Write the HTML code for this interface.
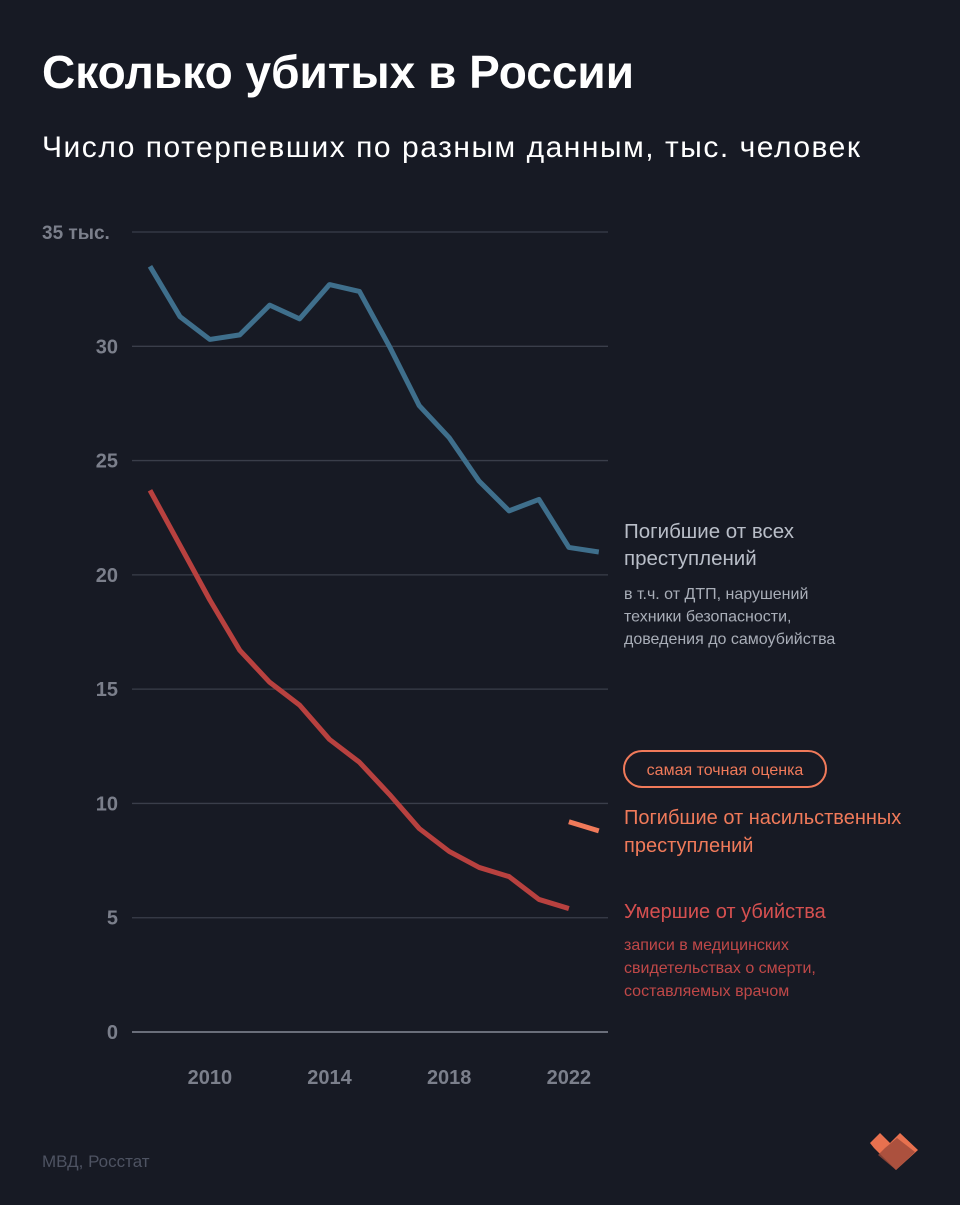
<!DOCTYPE html>
<html><head><meta charset="utf-8"><style>
body{margin:0;background:#171a24;width:960px;height:1200px;overflow:hidden;font-family:"Liberation Sans","DejaVu Sans",sans-serif}
svg text{font-family:"Liberation Sans","DejaVu Sans",sans-serif}
</style></head><body>
<svg id="c" width="960" height="1200">
<text x="42" y="88" font-size="46" font-weight="bold" fill="#ffffff" textLength="592">Сколько убитых в России</text>
<text x="42" y="157" font-size="30" fill="#ffffff" textLength="818">Число потерпевших по разным данным, тыс. человек</text>
<g id="grid"></g><g id="lines"></g>
<text x="624" y="538" font-size="20.5" fill="#b9bec8"><tspan x="624">Погибшие от всех</tspan><tspan x="624" dy="27">преступлений</tspan></text>
<text x="624" y="599" font-size="16" fill="#a9aeb8"><tspan x="624">в т.ч. от ДТП, нарушений</tspan><tspan x="624" dy="22.5">техники безопасности,</tspan><tspan x="624" dy="22.5">доведения до самоубийства</tspan></text>
<rect x="624" y="751" width="202" height="36" rx="18" fill="none" stroke="#f07a5a" stroke-width="2"/>
<text x="725" y="775" font-size="16" fill="#f07a5a" text-anchor="middle">самая точная оценка</text>
<text x="624" y="824" font-size="20" fill="#f07a5a"><tspan x="624">Погибшие от насильственных</tspan><tspan x="624" dy="28">преступлений</tspan></text>
<text x="624" y="918" font-size="20" fill="#d65050">Умершие от убийства</text>
<text x="624" y="950" font-size="16" fill="#c04848"><tspan x="624">записи в медицинских</tspan><tspan x="624" dy="23">свидетельствах о смерти,</tspan><tspan x="624" dy="23">составляемых врачом</tspan></text>
<text x="42" y="1167" font-size="17" fill="#4e5362">МВД, Росстат</text>
<g>
<polygon points="870,1143 880,1133 890,1143 900,1133 918,1150 896,1170 874,1148" fill="#e8714f"/>
<polygon points="885,1148 897,1138 915,1152 896,1170 878,1155" fill="#9c4a3a" opacity="0.8"/>
</g>
</svg>
<script>
const years=[2008,2009,2010,2011,2012,2013,2014,2015,2016,2017,2018,2019,2020,2021,2022,2023];
const allCrimes=[33.5,31.3,30.3,30.5,31.8,31.2,32.7,32.4,30.0,27.4,26.0,24.1,22.8,23.3,21.2,21.0];
const murders=[23.7,21.3,18.9,16.7,15.3,14.3,12.8,11.8,10.4,8.9,7.9,7.2,6.8,5.8,5.4];
const violentYears=[2022,2023];
const violent=[9.2,8.8];
const yTicks=[0,5,10,15,20,25,30,35];
const xTicks=[2010,2014,2018,2022];
const X=y=>150+(y-2008)*29.92;
const Y=v=>1032-v*22.857;
const NS="http://www.w3.org/2000/svg";
const grid=document.getElementById('grid'),lines=document.getElementById('lines');
function mk(tag,attrs,parent){const e=document.createElementNS(NS,tag);for(const k in attrs)e.setAttribute(k,attrs[k]);parent.appendChild(e);return e;}
yTicks.forEach(v=>{
 const l=mk('line',{x1:132,x2:608,y1:Y(v),y2:Y(v),stroke:v===0?'#6a6e7a':'#3a3e4a','stroke-width':v===0?2:1.3},grid);
 
 
 const t=mk('text',{x:118,y:Y(v)+7,'text-anchor':'end','font-size':20,'font-weight':'bold',fill:'#7b7f8b'},grid);
 t.textContent=v===35?'35 тыс.':v;
 if(v===35){t.setAttribute('x',42);t.setAttribute('text-anchor','start');t.setAttribute('font-size',19);}
 
 
});
xTicks.forEach(y=>{
 const t=mk('text',{x:X(y),y:1084,'text-anchor':'middle','font-size':20,'font-weight':'bold',fill:'#7b7f8b'},grid);
 t.textContent=y;
 
 
});
function line(xs,vs,color,name){
 const p=mk('polyline',{points:vs.map((v,i)=>X(xs[i])+','+Y(v)).join(' '),fill:'none',stroke:color,'stroke-width':5,'stroke-linejoin':'round','stroke-linecap':'butt'},lines);
 
 
}
line(years,allCrimes,'#3f6f8c','line-all-crimes');
line(years,murders,'#b8413f','line-murders');
line(violentYears,violent,'#f07a5a','line-violent');
</script>
</body></html>
